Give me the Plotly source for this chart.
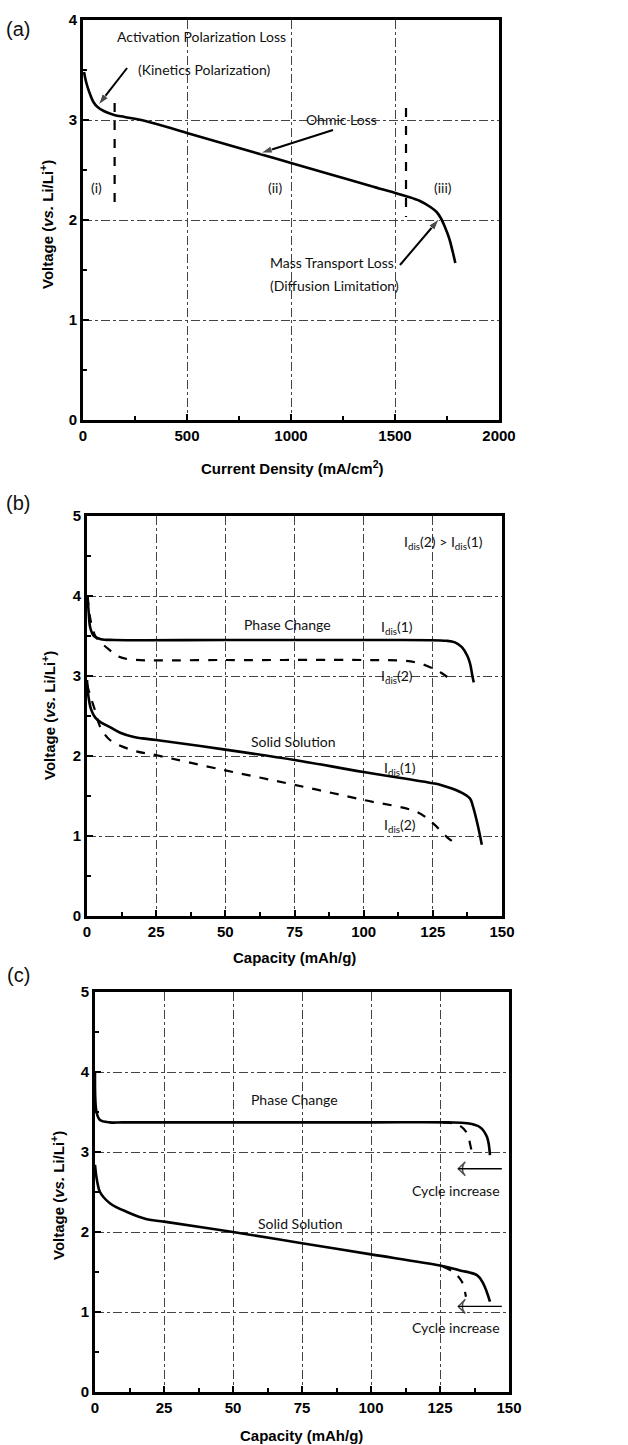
import plotly.graph_objects as go

# ---------------- Panel (a): polarization curve ----------------
a_current = [5, 15, 30, 50, 70, 100, 150, 200, 300, 500, 800, 1000, 1200, 1400, 1550,
             1620, 1670, 1700, 1720, 1740, 1760, 1780, 1790]
a_voltage = [3.48, 3.38, 3.28, 3.18, 3.13, 3.09, 3.05, 3.03, 2.99, 2.87, 2.69, 2.57, 2.45,
             2.33, 2.24, 2.19, 2.13, 2.08, 2.02, 1.93, 1.82, 1.66, 1.57]
a_bound_x = [152, 1553]
a_bound_top = [3.17, 3.12]
a_bound_bottom = [2.10, 2.03]
a_region_labels = ["(i)", "(ii)", "(iii)"]
a_region_x = [67, 923, 1731]
a_region_y = [2.33, 2.33, 2.33]
# arrows: [tail, head] in data units
a_arrow_x = [[212, 74], [1202, 855], [1524, 1712]]
a_arrow_y = [[3.52, 3.15], [2.90, 2.67], [1.55, 2.01]]

# ---------------- Panel (b): discharge at two currents ----------------
b_pc1_cap = [0.2, 0.6, 1.2, 2.5, 5, 10, 50, 100, 130, 133, 135.5, 137.5, 138.5, 139.3, 139.8]
b_pc1_v = [4.0, 3.8, 3.6, 3.5, 3.46, 3.45, 3.45, 3.45, 3.44, 3.42, 3.36, 3.25, 3.15, 3.0, 2.92]
b_pc2_cap = [0.2, 1, 2, 3, 5, 8, 11, 15, 50, 100, 115, 120, 124, 128, 132]
b_pc2_v = [4.0, 3.75, 3.6, 3.5, 3.42, 3.33, 3.25, 3.21, 3.2, 3.2, 3.19, 3.16, 3.11, 3.04, 2.94]
b_ss1_cap = [0, 0.5, 1.5, 3, 5, 8.3, 12, 16.6, 20, 25, 50, 75, 100, 125, 127.6, 134.9, 138.4,
             139.5, 141.4, 142.7]
b_ss1_v = [2.95, 2.75, 2.58, 2.48, 2.42, 2.36, 2.29, 2.24, 2.22, 2.2, 2.08, 1.95, 1.8, 1.66,
           1.64, 1.55, 1.47, 1.37, 1.11, 0.89]
b_ss2_cap = [0, 1.2, 2.9, 4.7, 8.3, 16.6, 25, 50, 75, 100, 119.3, 125, 130, 133.7]
b_ss2_v = [2.9, 2.75, 2.57, 2.37, 2.2, 2.07, 2.01, 1.82, 1.64, 1.45, 1.3, 1.16, 0.99, 0.89]

# ---------------- Panel (c): discharge vs cycling ----------------
c_pc_cap = [0, 0.6, 1.8, 5.4, 10, 50, 100, 127.5, 134.7, 139.5, 142, 143.1]
c_pc_v = [4.0, 3.49, 3.4, 3.37, 3.37, 3.37, 3.37, 3.37, 3.36, 3.31, 3.19, 2.96]
c_pc_cyc_cap = [126, 129.5, 132.2, 134.7, 136.1, 136.9]
c_pc_cyc_v = [3.37, 3.36, 3.33, 3.24, 3.07, 2.94]
c_ss_cap = [0, 0.7, 1.8, 5.4, 11.6, 18.8, 25, 50, 75, 100, 125, 132.2, 138.4, 140.6, 143.1]
c_ss_v = [2.84, 2.65, 2.5, 2.36, 2.25, 2.16, 2.13, 2.0, 1.86, 1.72, 1.58, 1.52, 1.46, 1.36, 1.13]
c_ss_cyc_cap = [126, 129.8, 132.9, 134.4]
c_ss_cyc_v = [1.57, 1.5, 1.38, 1.19]
c_arrow_x = [[147.4, 131.6], [147.4, 131.6]]
c_arrow_y = [[2.79, 2.79], [1.07, 1.07]]

Y_TITLE = "Voltage (<i>vs.</i> Li/Li<sup>+</sup>)"
X_TITLES = ["Current Density (mA/cm<sup>2</sup>)", "Capacity (mAh/g)", "Capacity (mAh/g)"]

LINE = dict(color="black", width=2.6)
DASH = dict(color="black", width=2.2, dash="dash")
TXT = dict(family="Lato", size=14, color="#111")
BOLD = dict(family="Liberation Sans", size=15, color="black", weight="bold")

fig = go.Figure()
fig.add_trace(go.Scatter(x=a_current, y=a_voltage, mode="lines", line=LINE,
                         line_shape="spline", xaxis="x", yaxis="y"))
for bx, bt, bb in zip(a_bound_x, a_bound_top, a_bound_bottom):
    fig.add_trace(go.Scatter(x=[bx, bx], y=[bt, bb], mode="lines",
                             line=dict(color="black", width=2.2, dash="dash"),
                             xaxis="x", yaxis="y"))
for cx, cy, ax, ay, st in [(b_pc1_cap, b_pc1_v, "x2", "y2", LINE), (b_pc2_cap, b_pc2_v, "x2", "y2", DASH),
                           (b_ss1_cap, b_ss1_v, "x2", "y2", LINE), (b_ss2_cap, b_ss2_v, "x2", "y2", DASH),
                           (c_pc_cap, c_pc_v, "x3", "y3", LINE), (c_pc_cyc_cap, c_pc_cyc_v, "x3", "y3", DASH),
                           (c_ss_cap, c_ss_v, "x3", "y3", LINE), (c_ss_cyc_cap, c_ss_cyc_v, "x3", "y3", DASH)]:
    fig.add_trace(go.Scatter(x=cx, y=cy, mode="lines", line=st, line_shape="spline",
                             xaxis=ax, yaxis=ay))

# arrows as line + arrowhead marker
for axs, ays in zip(a_arrow_x, a_arrow_y):
    fig.add_trace(go.Scatter(x=axs, y=ays, mode="lines+markers", xaxis="x", yaxis="y",
                             line=dict(color="black", width=2),
                             marker=dict(symbol=["circle", "arrow"], size=[0, 12],
                                         angleref="previous", color="black")))
for axs, ays in zip(c_arrow_x, c_arrow_y):
    fig.add_trace(go.Scatter(x=axs, y=ays, mode="lines+markers", xaxis="x3", yaxis="y3",
                             line=dict(color="black", width=1.4),
                             marker=dict(symbol=["circle", "arrow-wide-open"], size=[0, 10],
                                         angleref="previous", color="black",
                                         line=dict(color="black", width=1.4))))


def xaxis(dom, rng, dtick, minor, anchor):
    return dict(domain=dom, range=rng, dtick=dtick, tick0=0, anchor=anchor, automargin=False,
                showline=True, mirror=True, linewidth=2.6, linecolor="black",
                ticks="inside", ticklen=6, tickwidth=2, tickcolor="black",
                minor=dict(ticks="inside", ticklen=4, tickwidth=2, tickcolor="black",
                           dtick=minor, showgrid=False),
                showgrid=True, gridcolor="#444", gridwidth=1, griddash="dashdot",
                zeroline=False, tickfont=BOLD, fixedrange=True)


def yaxis(dom, rng, anchor):
    return dict(domain=dom, range=rng, dtick=1, tick0=0, anchor=anchor, automargin=False,
                showline=True, mirror=True, linewidth=2.6, linecolor="black",
                ticks="inside", ticklen=6, tickwidth=2, tickcolor="black",
                minor=dict(ticks="inside", ticklen=4, tickwidth=2, tickcolor="black",
                           dtick=0.5, showgrid=False),
                showgrid=True, gridcolor="#444", gridwidth=1, griddash="dashdot",
                zeroline=False, tickfont=BOLD, fixedrange=True)


W, H = 628, 1445
fig.update_layout(
    width=W, height=H, margin=dict(l=0, r=0, t=0, b=0, autoexpand=False),
    paper_bgcolor="white", plot_bgcolor="white", showlegend=False,
    xaxis=xaxis([83 / W, 499 / W], [0, 2000], 500, 250, "y"),
    yaxis=yaxis([1 - 420 / H, 1 - 20 / H], [0, 4], "x"),
    xaxis2=xaxis([87 / W, 502 / W], [0, 150], 25, 12.5, "y2"),
    yaxis2=yaxis([1 - 916 / H, 1 - 516 / H], [0, 5], "x2"),
    xaxis3=xaxis([95 / W, 509 / W], [0, 150], 25, 12.5, "y3"),
    yaxis3=yaxis([1 - 1392 / H, 1 - 992 / H], [0, 5], "x3"),
)

CENTER = dict(xanchor="center", yanchor="middle", showarrow=False, xref="paper", yref="paper")
ann = []
for lab, py in [("(a)", 29), ("(b)", 503), ("(c)", 975)]:
    ann.append(dict(text=lab, x=18 / W, y=1 - py / H,
                    font=dict(family="Liberation Sans", size=20, color="#111"), **CENTER))

# axis titles
for px, py in [(47, 225), (48, 716), (57, 1195)]:
    ann.append(dict(text=Y_TITLE, x=px / W, y=1 - py / H, textangle=-90, font=BOLD, **CENTER))
for t, px, py in zip(X_TITLES, [292, 294, 301], [467, 957, 1435]):
    ann.append(dict(text=t, x=px / W, y=1 - py / H, font=BOLD, **CENTER))

# panel (a) texts
ann.append(dict(text="Activation Polarization Loss", x=572, y=3.83, xref="x", yref="y",
                showarrow=False, font=TXT))
ann.append(dict(text="(Kinetics Polarization)", x=582, y=3.5, xref="x", yref="y",
                showarrow=False, font=TXT))
ann.append(dict(text="Ohmic Loss", x=1245, y=3.0, xref="x", yref="y", showarrow=False, font=TXT))
for lab, rx, ry in zip(a_region_labels, a_region_x, a_region_y):
    ann.append(dict(text=lab, x=rx, y=ry, xref="x", yref="y", showarrow=False, font=TXT))
ann.append(dict(text="Mass Transport Loss", x=890, y=1.58, xref="x", yref="y", xanchor="left",
                showarrow=False, font=TXT))
ann.append(dict(text="(Diffusion Limitation)", x=890, y=1.35, xref="x", yref="y", xanchor="left",
                showarrow=False, font=TXT))

# panel (b) texts
for t, x, y in [("I<sub>dis</sub>(2) > I<sub>dis</sub>(1)", 129, 4.67),
                ("Phase Change", 72.3, 3.64), ("I<sub>dis</sub>(1)", 112.2, 3.61),
                ("I<sub>dis</sub>(2)", 112, 2.99), ("Solid Solution", 74.5, 2.18),
                ("I<sub>dis</sub>(1)", 113, 1.84), ("I<sub>dis</sub>(2)", 113, 1.13)]:
    ann.append(dict(text=t, x=x, y=y, xref="x2", yref="y2", showarrow=False, font=TXT))

# panel (c) texts
for t, x, y in [("Phase Change", 72.1, 3.66), ("Solid Solution", 74.6, 2.11),
                ("Cycle increase", 130.8, 2.52), ("Cycle increase", 130.8, 0.81)]:
    ann.append(dict(text=t, x=x, y=y, xref="x3", yref="y3", showarrow=False, font=TXT))

fig.update_layout(annotations=ann)
fig.write_html("out.html", config={"displayModeBar": False},
               post_script="document.body.style.margin='0px';document.body.style.overflow='hidden';")
